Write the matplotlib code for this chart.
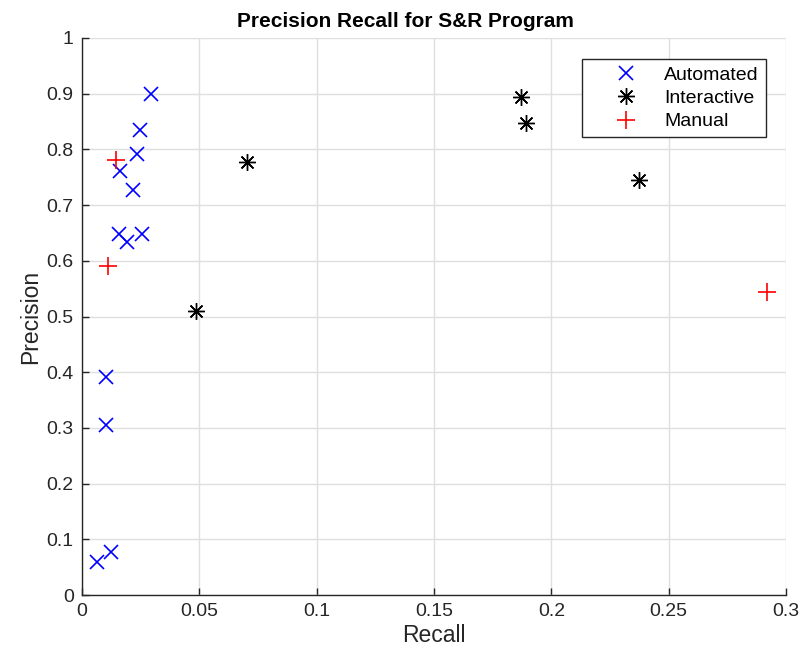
import matplotlib
matplotlib.use("Agg")
import matplotlib.pyplot as plt
import numpy as np

plt.rcParams['font.family'] = ['Liberation Sans', 'DejaVu Sans']

auto_recall = [0.0294, 0.0247, 0.0234, 0.0162, 0.0217, 0.0158, 0.0192, 0.0256, 0.0102, 0.0102, 0.0064, 0.0124]
auto_prec   = [0.900, 0.835, 0.792, 0.762, 0.728, 0.648, 0.634, 0.648, 0.392, 0.305, 0.059, 0.077]
inter_recall = [0.187, 0.189, 0.2373, 0.0703, 0.0486]
inter_prec   = [0.894, 0.847, 0.745, 0.778, 0.509]
man_recall = [0.0145, 0.0111, 0.2919]
man_prec   = [0.781, 0.591, 0.544]

xticks = [0, 0.05, 0.1, 0.15, 0.2, 0.25, 0.3]
yticks = [0, 0.1, 0.2, 0.3, 0.4, 0.5, 0.6, 0.7, 0.8, 0.9, 1]

fig = plt.figure(figsize=(8.01, 6.58), dpi=100)
ax = fig.add_axes([82/801, 1-595/658, (786-82)/801, (595-38)/658])

ax.plot(auto_recall, auto_prec, 'x', color='blue', ms=10, mew=1.2, ls='none', label='Automated')
ax.plot(inter_recall, inter_prec, marker=(8, 2, 0), color='black', ms=12, mew=1.0, ls='none', label='Interactive')
ax.plot(man_recall, man_prec, '+', color='red', ms=13, mew=1.2, ls='none', label='Manual')

ax.set_xlim(0, 0.3)
ax.set_ylim(0, 1)
ax.set_xticks(xticks)
ax.set_xticklabels(['0', '0.05', '0.1', '0.15', '0.2', '0.25', '0.3'])
ax.set_yticks(yticks)
ax.set_yticklabels(['0', '0.1', '0.2', '0.3', '0.4', '0.5', '0.6', '0.7', '0.8', '0.9', '1'])
ax.tick_params(direction='in', length=5, width=1, labelsize=14, colors='#262626', pad=6)
ax.grid(True, color='#dfdfdf', lw=1)
ax.set_axisbelow(True)
for s in ['top', 'right']:
    ax.spines[s].set_visible(False)
for s in ['left', 'bottom']:
    ax.spines[s].set_color('#262626')
    ax.spines[s].set_linewidth(1)

ax.set_xlabel('Recall', fontsize=16.5, color='#262626', labelpad=3)
ax.set_ylabel('Precision', fontsize=16.5, color='#262626', labelpad=3)
ax.set_title('Precision Recall for S&R Program', fontsize=15, fontweight='bold', pad=8,
             x=(405-82)/704)

leg = ax.legend(loc='upper right', bbox_to_anchor=(0.971, 0.962), fontsize=14, fancybox=False,
                edgecolor='#262626', framealpha=1, borderpad=0.35, handletextpad=0.0, labelspacing=0.3,
                handlelength=3.9, borderaxespad=0)
leg.get_frame().set_linewidth(1)

fig.savefig('out.png', dpi=100)
